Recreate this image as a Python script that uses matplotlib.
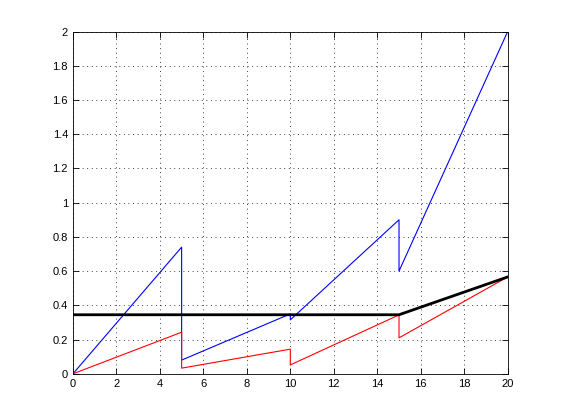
import numpy as np
import matplotlib
matplotlib.use("Agg")
import matplotlib.pyplot as plt

# blue curve (sawtooth with drops)
x_blue = [0, 5, 5, 10, 10, 15, 15, 20]
y_blue = [0, 0.74, 0.08, 0.35, 0.315, 0.90, 0.60, 2.0]

# red curve
x_red = [0, 5, 5, 10, 10, 15, 15, 20]
y_red = [0, 0.243, 0.033, 0.144, 0.052, 0.344, 0.21, 0.566]

# black thick line
x_black = [0, 15, 20]
y_black = [0.345, 0.345, 0.566]

xticks = np.arange(0, 21, 2)
yticks = np.round(np.arange(0, 2.01, 0.2), 1)
ytick_labels = ["0", "0.2", "0.4", "0.6", "0.8", "1", "1.2", "1.4", "1.6", "1.8", "2"]

plt.rcParams['font.family'] = ['Liberation Sans', 'DejaVu Sans']

fig = plt.figure(figsize=(5.61, 4.2), dpi=100)
ax = fig.add_axes([0.13, 0.11, 0.775, 0.815])

ax.plot(x_blue, y_blue, color=(0, 0, 1), lw=0.8)
ax.plot(x_red, y_red, color=(1, 0, 0), lw=0.8)
ax.plot(x_black, y_black, color="k", lw=2)

ax.set_xlim(0, 20)
ax.set_ylim(0, 2)
ax.set_xticks(xticks)
ax.set_xticklabels([str(t) for t in xticks])
ax.set_yticks(yticks)
ax.set_yticklabels(ytick_labels)
ax.tick_params(direction="in", top=True, right=True, labelsize=8, length=4, width=0.6)
ax.grid(True, linestyle=(0, (1, 4.5)), color="k", lw=0.6)
for s in ax.spines.values():
    s.set_linewidth(0.6)

fig.savefig("out.png", dpi=100)
